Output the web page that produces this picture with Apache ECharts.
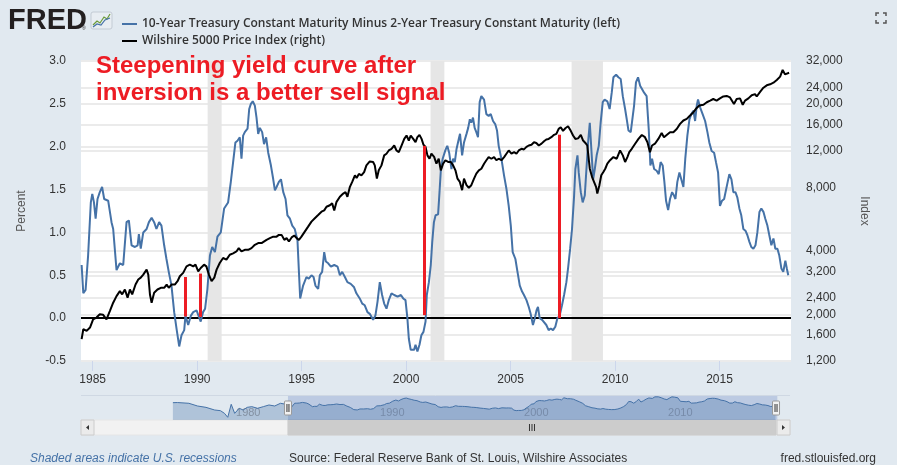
<!DOCTYPE html>
<html>
<head>
<meta charset="utf-8">
<script src="https://cdn.jsdelivr.net/npm/echarts@6/dist/echarts.min.js"></script>
</head>
<body style="margin:0;background:#e1e9f0">
<div id="container" style="width:897px;height:465px"></div>
<script>
// 10Y minus 2Y spread, percent (decimal year, value)
var spreadData = [
[1984.47,0.62],[1984.55,0.29],[1984.66,0.33],[1984.78,0.73],[1984.91,1.35],[1984.98,1.45],[1985.06,1.35],[1985.14,1.16],
[1985.23,1.39],[1985.34,1.47],[1985.45,1.53],[1985.55,1.39],[1985.74,1.37],[1985.90,1.12],[1985.98,1.04],[1986.14,0.56],
[1986.30,0.64],[1986.46,0.62],[1986.62,1.12],[1986.73,1.14],[1986.86,0.85],[1987.02,0.83],[1987.15,0.85],[1987.21,0.98],
[1987.30,0.81],[1987.42,1.00],[1987.58,1.04],[1987.69,1.12],[1987.82,1.17],[1987.94,1.12],[1988.05,1.04],[1988.18,1.12],
[1988.29,1.08],[1988.42,0.85],[1988.53,0.69],[1988.64,0.54],[1988.77,0.38],[1988.90,0.07],[1989.01,-0.12],[1989.14,-0.33],
[1989.25,-0.20],[1989.38,-0.14],[1989.44,0.03],[1989.57,-0.08],[1989.70,0.03],[1989.81,0.07],[1989.97,0.09],[1990.05,0.11],
[1990.17,-0.04],[1990.28,0.07],[1990.38,0.11],[1990.49,0.34],[1990.61,0.73],[1990.72,0.83],[1990.85,0.77],[1990.97,0.95],
[1991.13,1.00],[1991.29,1.28],[1991.48,1.35],[1991.61,1.59],[1991.72,1.82],[1991.83,2.05],[1991.93,2.07],[1992.04,2.11],
[1992.12,1.86],[1992.20,2.13],[1992.28,2.17],[1992.41,2.21],[1992.49,2.44],[1992.57,2.50],[1992.66,2.53],[1992.76,2.48],
[1992.84,2.34],[1992.92,2.15],[1993.00,2.22],[1993.11,2.17],[1993.20,2.03],[1993.30,2.11],[1993.40,1.93],[1993.53,1.78],
[1993.64,1.62],[1993.72,1.49],[1993.80,1.53],[1993.91,1.59],[1994.01,1.62],[1994.12,1.47],[1994.23,1.39],[1994.32,1.20],
[1994.44,1.16],[1994.55,1.08],[1994.67,1.04],[1994.80,0.91],[1994.87,0.54],[1994.93,0.23],[1995.07,0.38],[1995.23,0.48],
[1995.34,0.46],[1995.47,0.50],[1995.57,0.48],[1995.66,0.38],[1995.79,0.34],[1995.87,0.50],[1995.98,0.54],[1996.08,0.77],
[1996.16,0.66],[1996.27,0.64],[1996.40,0.60],[1996.56,0.62],[1996.72,0.60],[1996.83,0.50],[1996.94,0.54],[1997.07,0.48],
[1997.19,0.42],[1997.35,0.40],[1997.51,0.36],[1997.62,0.29],[1997.78,0.23],[1997.90,0.17],[1998.02,0.15],[1998.15,0.07],
[1998.26,0.05],[1998.42,-0.02],[1998.53,0.03],[1998.63,0.19],[1998.74,0.42],[1998.85,0.27],[1998.95,0.17],[1999.06,0.11],
[1999.17,0.21],[1999.30,0.29],[1999.43,0.27],[1999.59,0.25],[1999.75,0.27],[1999.86,0.23],[1999.97,0.21],[2000.06,0.00],
[2000.13,-0.24],[2000.22,-0.37],[2000.29,-0.35],[2000.38,-0.37],[2000.45,-0.31],[2000.54,-0.39],[2000.64,-0.31],[2000.73,-0.20],
[2000.83,-0.16],[2000.93,-0.04],[2000.99,0.27],[2001.09,0.42],[2001.18,0.62],[2001.25,0.89],[2001.33,1.12],[2001.41,1.20],
[2001.53,1.21],[2001.58,1.40],[2001.66,1.72],[2001.75,1.86],[2001.88,1.96],[2001.97,2.01],[2002.06,1.93],[2002.17,1.74],
[2002.25,1.86],[2002.33,1.82],[2002.41,1.97],[2002.52,2.09],[2002.58,2.15],[2002.68,1.90],[2002.77,2.05],[2002.89,2.15],
[2002.97,2.22],[2003.05,2.32],[2003.12,2.28],[2003.20,2.34],[2003.28,2.22],[2003.36,2.17],[2003.44,2.11],[2003.52,2.52],
[2003.60,2.59],[2003.73,2.55],[2003.84,2.38],[2003.95,2.36],[2004.05,2.38],[2004.16,2.30],[2004.27,2.26],[2004.35,2.19],
[2004.43,2.01],[2004.56,1.86],[2004.69,1.66],[2004.80,1.51],[2004.91,1.31],[2005.01,1.08],[2005.10,0.77],[2005.23,0.69],
[2005.33,0.54],[2005.44,0.38],[2005.55,0.31],[2005.64,0.27],[2005.76,0.21],[2005.87,0.13],[2005.96,0.05],[2006.07,-0.08],
[2006.16,0.00],[2006.24,0.09],[2006.31,0.13],[2006.39,0.00],[2006.51,-0.02],[2006.60,-0.04],[2006.71,-0.08],[2006.82,-0.14],
[2006.92,-0.12],[2007.03,-0.14],[2007.14,-0.10],[2007.24,0.00],[2007.35,0.03],[2007.46,0.15],[2007.56,0.27],[2007.67,0.42],
[2007.75,0.58],[2007.85,0.81],[2007.94,1.04],[2008.04,1.43],[2008.10,1.74],[2008.20,1.90],[2008.26,1.70],[2008.36,1.47],
[2008.45,1.35],[2008.55,1.43],[2008.63,1.74],[2008.71,2.05],[2008.79,2.28],[2008.87,2.30],[2008.95,1.62],[2009.03,1.74],
[2009.12,1.90],[2009.22,2.01],[2009.31,2.28],[2009.41,2.52],[2009.50,2.55],[2009.63,2.53],[2009.74,2.44],[2009.84,2.63],
[2009.92,2.81],[2010.05,2.84],[2010.16,2.81],[2010.27,2.79],[2010.37,2.59],[2010.48,2.44],[2010.56,2.32],[2010.64,2.19],
[2010.75,2.17],[2010.83,2.17],[2010.91,2.48],[2011.00,2.75],[2011.10,2.81],[2011.20,2.71],[2011.29,2.73],[2011.39,2.63],
[2011.51,2.59],[2011.61,2.21],[2011.69,1.78],[2011.77,1.86],[2011.87,1.74],[2011.99,1.72],[2012.09,1.68],[2012.18,1.82],
[2012.28,1.78],[2012.36,1.59],[2012.44,1.37],[2012.54,1.26],[2012.63,1.39],[2012.73,1.47],[2012.82,1.43],[2012.89,1.39],
[2012.98,1.59],[2013.08,1.70],[2013.17,1.68],[2013.27,1.53],[2013.36,1.86],[2013.46,2.13],[2013.56,2.32],[2013.65,2.38],
[2013.75,2.42],[2013.83,2.30],[2013.91,2.48],[2013.97,2.55],[2014.07,2.46],[2014.19,2.38],[2014.31,2.30],[2014.42,2.17],
[2014.51,2.05],[2014.62,1.95],[2014.74,1.93],[2014.83,1.82],[2014.93,1.70],[2015.02,1.31],[2015.12,1.37],[2015.22,1.39],
[2015.31,1.39],[2015.39,1.59],[2015.47,1.68],[2015.57,1.62],[2015.66,1.47],[2015.76,1.47],[2015.85,1.41],[2015.95,1.28],
[2016.04,1.20],[2016.14,1.04],[2016.24,1.02],[2016.33,0.97],[2016.43,0.89],[2016.52,0.83],[2016.62,0.81],[2016.72,0.85],
[2016.81,1.00],[2016.91,1.24],[2017.00,1.28],[2017.10,1.24],[2017.19,1.16],[2017.29,1.08],[2017.38,0.97],[2017.48,0.85],
[2017.58,0.93],[2017.67,0.81],[2017.77,0.81],[2017.86,0.73],[2017.96,0.58],[2018.05,0.54],[2018.15,0.67],[2018.22,0.58],
[2018.29,0.50]
];

// Wilshire 5000 price index (decimal year, value)
var wilshireData = [
[1984.47,1524],[1984.55,1699],[1984.71,1668],[1984.87,1731],[1985.02,1894],[1985.18,1930],[1985.34,2000],[1985.50,1990],
[1985.66,1894],[1985.82,2073],[1985.98,2272],[1986.14,2441],[1986.30,2577],[1986.41,2490],[1986.54,2624],[1986.67,2400],
[1986.78,2624],[1986.89,2490],[1987.05,2771],[1987.18,2926],[1987.30,2989],[1987.42,3090],[1987.58,3262],[1987.66,3090],
[1987.74,2485],[1987.82,2272],[1987.94,2533],[1988.10,2624],[1988.26,2673],[1988.42,2673],[1988.54,2771],[1988.64,2673],
[1988.77,2771],[1988.93,2771],[1989.06,2873],[1989.17,3033],[1989.33,3147],[1989.49,3381],[1989.65,3444],[1989.81,3381],
[1989.92,3444],[1990.05,3202],[1990.17,3320],[1990.33,3444],[1990.44,3381],[1990.56,3090],[1990.69,2873],[1990.82,2989],
[1990.93,3262],[1991.08,3508],[1991.24,3704],[1991.40,3640],[1991.56,3840],[1991.72,3900],[1991.88,3980],[1991.99,4129],
[1992.12,3980],[1992.28,4050],[1992.44,4050],[1992.60,4129],[1992.76,4280],[1992.92,4360],[1993.08,4360],[1993.16,4437],
[1993.32,4519],[1993.48,4603],[1993.64,4680],[1993.80,4680],[1993.91,4771],[1994.04,4771],[1994.17,4519],[1994.28,4603],
[1994.39,4437],[1994.52,4640],[1994.65,4740],[1994.76,4603],[1994.87,4519],[1994.99,4680],[1995.15,4945],[1995.31,5220],
[1995.47,5516],[1995.63,5724],[1995.79,5930],[1995.95,6148],[1996.08,6240],[1996.19,6490],[1996.35,6600],[1996.46,6735],
[1996.56,6240],[1996.67,6850],[1996.83,7240],[1996.99,7500],[1997.10,7620],[1997.19,7240],[1997.31,8070],[1997.42,8520],
[1997.55,9160],[1997.63,8900],[1997.74,9300],[1997.86,9160],[1997.99,9490],[1998.10,10210],[1998.26,10660],[1998.42,10600],
[1998.50,10210],[1998.60,8830],[1998.69,9670],[1998.82,10210],[1998.95,11390],[1999.06,11600],[1999.17,12020],[1999.30,12240],
[1999.43,12690],[1999.54,12020],[1999.65,11800],[1999.78,12690],[1999.91,13640],[2000.02,14160],[2000.13,13400],[2000.22,14160],
[2000.34,13640],[2000.45,13160],[2000.54,13900],[2000.64,14260],[2000.74,13640],[2000.83,12800],[2000.93,12500],[2001.02,11390],
[2001.12,10980],[2001.21,11600],[2001.34,11200],[2001.45,10400],[2001.56,10980],[2001.66,9670],[2001.77,10400],[2001.88,10800],
[2002.01,10600],[2002.14,10600],[2002.25,10210],[2002.36,9670],[2002.46,8830],[2002.57,8520],[2002.68,7780],[2002.77,8830],
[2002.89,8220],[2003.00,7990],[2003.12,8220],[2003.25,8830],[2003.36,9330],[2003.48,9670],[2003.60,9840],[2003.73,10400],
[2003.84,10800],[2003.95,11180],[2004.08,10980],[2004.21,11180],[2004.32,10800],[2004.43,10980],[2004.56,10800],[2004.69,11180],
[2004.80,11600],[2004.91,12020],[2005.04,11600],[2005.17,11800],[2005.28,11600],[2005.39,12020],[2005.52,12240],[2005.64,12160],
[2005.76,12500],[2005.87,12690],[2006.00,12800],[2006.12,13160],[2006.23,13050],[2006.35,12690],[2006.48,12950],[2006.60,13300],
[2006.71,13560],[2006.82,13640],[2006.95,13900],[2007.08,14260],[2007.19,14410],[2007.30,15230],[2007.40,15500],[2007.51,14900],
[2007.62,15330],[2007.75,15670],[2007.88,14900],[2007.99,14160],[2008.10,13640],[2008.23,13720],[2008.36,14260],[2008.47,13400],
[2008.58,13050],[2008.67,12690],[2008.79,9850],[2008.90,8990],[2008.99,9160],[2009.09,8070],[2009.15,7500],[2009.25,8220],
[2009.34,9160],[2009.44,9490],[2009.53,9840],[2009.63,10400],[2009.76,10800],[2009.92,11180],[2010.08,10980],[2010.24,12020],
[2010.37,11390],[2010.48,10600],[2010.59,11180],[2010.68,11800],[2010.80,12240],[2010.96,12940],[2011.12,13640],[2011.28,14240],
[2011.43,13900],[2011.55,13160],[2011.67,11800],[2011.77,12690],[2011.91,12940],[2012.07,13640],[2012.23,14560],[2012.34,13900],
[2012.47,14240],[2012.63,14670],[2012.79,14670],[2012.95,15210],[2013.11,16080],[2013.27,16690],[2013.43,16980],[2013.59,17610],
[2013.75,18270],[2013.87,18960],[2014.03,19670],[2014.23,19810],[2014.39,20370],[2014.55,20740],[2014.70,21110],[2014.86,20740],
[2015.02,21260],[2015.18,21700],[2015.34,21840],[2015.50,21480],[2015.58,21260],[2015.69,20000],[2015.82,21110],[2015.98,21260],
[2016.11,19810],[2016.22,20740],[2016.38,21260],[2016.54,22010],[2016.70,22260],[2016.78,21700],[2016.94,22820],[2017.10,23880],
[2017.26,24520],[2017.42,24790],[2017.58,25240],[2017.74,26000],[2017.90,26960],[2018.02,29040],[2018.13,27660],[2018.21,27370],
[2018.33,28150]
];

// earlier spread history, only visible in the navigator
var spreadEarly = [
[1976.45,1.47],[1976.76,1.50],[1977.56,1.33],[1978.16,0.71],[1978.75,0.40],[1979.35,-0.21],[1979.75,-0.36],[1980.03,-0.97],
[1980.26,-1.88],[1980.50,1.10],[1980.74,-0.97],[1981.06,0.18],[1981.33,-0.21],[1981.61,0.40],[1981.93,0.56],[1982.33,0.18],
[1982.73,0.56],[1983.12,0.94],[1983.52,0.71],[1983.92,1.33],[1984.31,1.10]
];

var recessions = [[1990.50, 1991.17], [2001.17, 2001.83], [2007.92, 2009.42]];
// red sell-signal bars: [year, top, bottom] in percent
var sellSignals = [[1989.44, 0.48, 0.02], [1990.15, 0.52, 0.015], [2000.88, 2.01, 0.035], [2007.31, 2.14, 0.0]];
var yearTicks = [1985, 1990, 1995, 2000, 2005, 2010, 2015];
var indexTicks = [1200, 1600, 2000, 2400, 3200, 4000, 8000, 12000, 16000, 20000, 24000, 32000];
var navTicks = [1980, 1990, 2000, 2010];
var viewRange = [1984.44, 2018.42];

var spreadName = '10-Year Treasury Constant Maturity Minus 2-Year Treasury Constant Maturity (left)';
var wilName = 'Wilshire 5000 Price Index (right)';
var gridColor = '#ebebeb';

var dom = document.getElementById('container');
var myChart = echarts.init(dom);

var option = {
    backgroundColor: '#e1e9f0',
    animation: false,
    textStyle: {fontFamily: 'Liberation Sans, Arial, sans-serif'},
    legend: {
        data: [spreadName, wilName],
        orient: 'vertical',
        left: 117,
        top: 12,
        itemWidth: 15,
        itemHeight: 2,
        itemGap: 3,
        icon: 'rect',
        textStyle: {fontFamily: 'Open Sans', fontSize: 12, fontWeight: 600, color: '#333', lineHeight: 14},
        selectedMode: false
    },
    grid: [
        {left: 81, right: 106, top: 61, bottom: 104, show: true, backgroundColor: '#fff', borderWidth: 0},
        {left: 81, right: 107, top: 396, height: 24}
    ],
    xAxis: [
        {
            type: 'value', gridIndex: 0, min: viewRange[0], max: viewRange[1],
            axisLine: {show: false, onZero: false},
            axisTick: {customValues: yearTicks, length: 10, lineStyle: {color: '#ccd6eb'}},
            axisLabel: {customValues: yearTicks, color: '#333', fontSize: 12, margin: 13,
                formatter: function (v) { return Math.round(v) + ''; }},
            splitLine: {show: false}
        },
        {
            type: 'value', gridIndex: 1, min: 1970.07, max: 2019.3,
            axisLine: {show: false, onZero: false},
            axisTick: {show: false},
            axisLabel: {customValues: navTicks, inside: true, margin: 2, color: '#a0a0a0', fontSize: 11,
                align: 'left', padding: [0, 0, 0, 12], formatter: function (v) { return Math.round(v) + ''; }},
            splitLine: {show: false}
        }
    ],
    yAxis: [
        {
            type: 'value', gridIndex: 0, min: -0.5, max: 3, interval: 0.5, position: 'left',
            name: 'Percent', nameLocation: 'middle', nameGap: 53,
            nameTextStyle: {color: '#555', fontSize: 12},
            axisLine: {show: false}, axisTick: {show: false},
            axisLabel: {color: '#333', fontSize: 12, margin: 15, formatter: function (v) { return v.toFixed(1); }},
            splitLine: {lineStyle: {color: gridColor, width: 2}}
        },
        {
            type: 'log', gridIndex: 0, min: 1200, max: 32000, position: 'right',
            name: 'Index', nameLocation: 'middle', nameRotate: -90, nameGap: 67,
            nameTextStyle: {color: '#555', fontSize: 12},
            axisLine: {show: false},
            axisTick: {show: false, customValues: indexTicks},
            axisLabel: {customValues: indexTicks, color: '#333', fontSize: 12, margin: 15,
                formatter: function (v) { return Math.round(v).toLocaleString('en-US'); }},
            splitLine: {show: false}
        },
        {type: 'value', gridIndex: 1, min: -2.5, max: 3, show: false}
    ],
    series: [
        {
            // grid lines of the right (log) axis, kept under everything
            type: 'line', xAxisIndex: 0, yAxisIndex: 1, data: [], z: 0, silent: true,
            markLine: {
                z: 0, silent: true, symbol: 'none', label: {show: false},
                lineStyle: {color: gridColor, width: 2, type: 'solid'},
                data: indexTicks.slice(1, -1).map(function (v) { return {yAxis: v}; })
            }
        },
        {
            type: 'line', xAxisIndex: 0, yAxisIndex: 0, data: [], z: 1, silent: true,
            markArea: {
                z: 1, silent: true,
                itemStyle: {color: '#e6e6e6'},
                data: recessions.map(function (r) { return [{xAxis: r[0]}, {xAxis: r[1]}]; })
            }
        },
        {
            type: 'line', xAxisIndex: 0, yAxisIndex: 0, data: [], z: 2, silent: true,
            markLine: {
                z: 2, silent: true, symbol: 'none', label: {show: false},
                lineStyle: {color: '#000', width: 2, type: 'solid'},
                data: [{yAxis: 0}]
            }
        },
        {
            name: spreadName, type: 'line', xAxisIndex: 0, yAxisIndex: 0, data: spreadData,
            showSymbol: false, z: 3,
            lineStyle: {color: '#4572a7', width: 2}, itemStyle: {color: '#4572a7'}
        },
        {
            name: wilName, type: 'line', xAxisIndex: 0, yAxisIndex: 1, data: wilshireData,
            showSymbol: false, z: 3,
            lineStyle: {color: '#000', width: 2}, itemStyle: {color: '#000'}
        },
        {
            type: 'line', xAxisIndex: 0, yAxisIndex: 0, data: [], z: 5, silent: true,
            markLine: {
                z: 5, silent: true, symbol: 'none', label: {show: false},
                lineStyle: {color: '#ed1c24', width: 3, type: 'solid'},
                data: sellSignals.map(function (s) { return [{coord: [s[0], s[1]]}, {coord: [s[0], s[2]]}]; })
            }
        },
        {
            type: 'line', xAxisIndex: 1, yAxisIndex: 2, data: spreadEarly.concat(spreadData),
            showSymbol: false, silent: true,
            lineStyle: {color: '#4572a7', width: 1},
            areaStyle: {color: 'rgba(69,114,167,0.45)', origin: 'start'},
            markArea: {
                silent: true,
                itemStyle: {color: 'rgba(102,133,194,0.3)'},
                data: [[{xAxis: viewRange[0]}, {xAxis: viewRange[1]}]]
            }
        }
    ],
    graphic: [
        {type: 'text', left: 8, top: 6, style: {text: 'FRED', fontFamily: 'Liberation Sans', fontWeight: 'bold', fontSize: 29, fill: '#231f20'}},
        {type: 'text', left: 82, top: 26, style: {text: '\u00ae', fontSize: 5, fill: '#231f20'}},
        {type: 'rect', shape: {x: 91, y: 12, width: 21, height: 17, r: 2}, style: {fill: '#e8edf2', stroke: '#c3cbd4'}},
        {type: 'polyline', shape: {points: [[93, 25], [97, 21], [100, 23], [104, 17], [107, 19], [110, 14]]}, style: {stroke: '#6b9b3a', lineWidth: 1.2, fill: null}},
        {type: 'polyline', shape: {points: [[93, 27], [97, 24], [101, 25], [105, 20], [110, 18]]}, style: {stroke: '#4572a7', lineWidth: 1.2, fill: null}},
        {type: 'polyline', shape: {points: [[876, 16], [876, 13], [879, 13]]}, style: {stroke: '#555', lineWidth: 1.5, fill: null}},
        {type: 'polyline', shape: {points: [[883, 13], [886, 13], [886, 16]]}, style: {stroke: '#555', lineWidth: 1.5, fill: null}},
        {type: 'polyline', shape: {points: [[876, 20], [876, 23], [879, 23]]}, style: {stroke: '#555', lineWidth: 1.5, fill: null}},
        {type: 'polyline', shape: {points: [[883, 23], [886, 23], [886, 20]]}, style: {stroke: '#555', lineWidth: 1.5, fill: null}},
        {type: 'text', x: 96, y: 66, z: 10, style: {text: 'Steepening yield curve after', fontFamily: 'Liberation Sans', fontWeight: 'bold', fontSize: 24, fill: '#ed1c24', verticalAlign: 'middle'}},
        {type: 'text', x: 96, y: 93, z: 10, style: {text: 'inversion is a better sell signal', fontFamily: 'Liberation Sans', fontWeight: 'bold', fontSize: 24, fill: '#ed1c24', verticalAlign: 'middle'}},
        {type: 'text', x: 30, y: 459, style: {text: 'Shaded areas indicate U.S. recessions', fontStyle: 'italic', fontSize: 12, fill: '#4572a7', verticalAlign: 'middle'}},
        {type: 'text', x: 289, y: 459, style: {text: 'Source: Federal Reserve Bank of St. Louis, Wilshire Associates', fontSize: 12, fill: '#333', verticalAlign: 'middle'}},
        {type: 'text', x: 876, y: 459, style: {text: 'fred.stlouisfed.org', fontSize: 12, fill: '#333', align: 'right', verticalAlign: 'middle'}}
    ]
};

myChart.setOption(option);

// navigator chrome: handles and scrollbar follow the selected range on the navigator axis
var h1 = myChart.convertToPixel({xAxisIndex: 1}, viewRange[0]);
var h2 = myChart.convertToPixel({xAxisIndex: 1}, Math.min(viewRange[1], 2018.33));
var navL = 81, navR = 790, sbTop = 420, sbH = 15;
var mid = (h1 + h2) / 2;
function handle(id, x) {
    return [
        {id: id + 'r', type: 'rect', z: 20, shape: {x: x - 3.5, y: 401, width: 7, height: 14, r: 1}, style: {fill: '#f2f2f2', stroke: '#999', lineWidth: 1}},
        {id: id + 'a', type: 'line', z: 21, shape: {x1: x - 1, y1: 404, x2: x - 1, y2: 412}, style: {stroke: '#333', lineWidth: 1}},
        {id: id + 'b', type: 'line', z: 21, shape: {x1: x + 1, y1: 404, x2: x + 1, y2: 412}, style: {stroke: '#333', lineWidth: 1}}
    ];
}
var nav = [
    {id: 'navTop', type: 'line', shape: {x1: navL, y1: 395.5, x2: navR, y2: 395.5}, style: {stroke: '#cfd8e3', lineWidth: 1}},
    {id: 'sbTrack', type: 'rect', shape: {x: navL, y: sbTop, width: navR - navL, height: sbH}, style: {fill: '#f2f2f2', stroke: '#e6e6e6'}},
    {id: 'sbThumb', type: 'rect', shape: {x: h1, y: sbTop, width: h2 - h1, height: sbH}, style: {fill: '#cccccc', stroke: '#cccccc'}},
    {id: 'sbBtnL', type: 'rect', shape: {x: navL, y: sbTop, width: 13, height: sbH}, style: {fill: '#ebebeb', stroke: '#cccccc'}},
    {id: 'sbBtnR', type: 'rect', shape: {x: navR - 13, y: sbTop, width: 13, height: sbH}, style: {fill: '#ebebeb', stroke: '#cccccc'}},
    {id: 'sbArrL', type: 'polygon', shape: {points: [[navL + 5, sbTop + 7.5], [navL + 8, sbTop + 5], [navL + 8, sbTop + 10]]}, style: {fill: '#333'}},
    {id: 'sbArrR', type: 'polygon', shape: {points: [[navR - 5, sbTop + 7.5], [navR - 8, sbTop + 5], [navR - 8, sbTop + 10]]}, style: {fill: '#333'}},
    {id: 'g1', type: 'line', shape: {x1: mid - 2.5, y1: sbTop + 4, x2: mid - 2.5, y2: sbTop + 11}, style: {stroke: '#333', lineWidth: 1}},
    {id: 'g2', type: 'line', shape: {x1: mid, y1: sbTop + 4, x2: mid, y2: sbTop + 11}, style: {stroke: '#333', lineWidth: 1}},
    {id: 'g3', type: 'line', shape: {x1: mid + 2.5, y1: sbTop + 4, x2: mid + 2.5, y2: sbTop + 11}, style: {stroke: '#333', lineWidth: 1}}
].concat(handle('hl', h1), handle('hr', h2));

myChart.setOption({graphic: option.graphic.concat(nav)});
</script>
</body>
</html>
